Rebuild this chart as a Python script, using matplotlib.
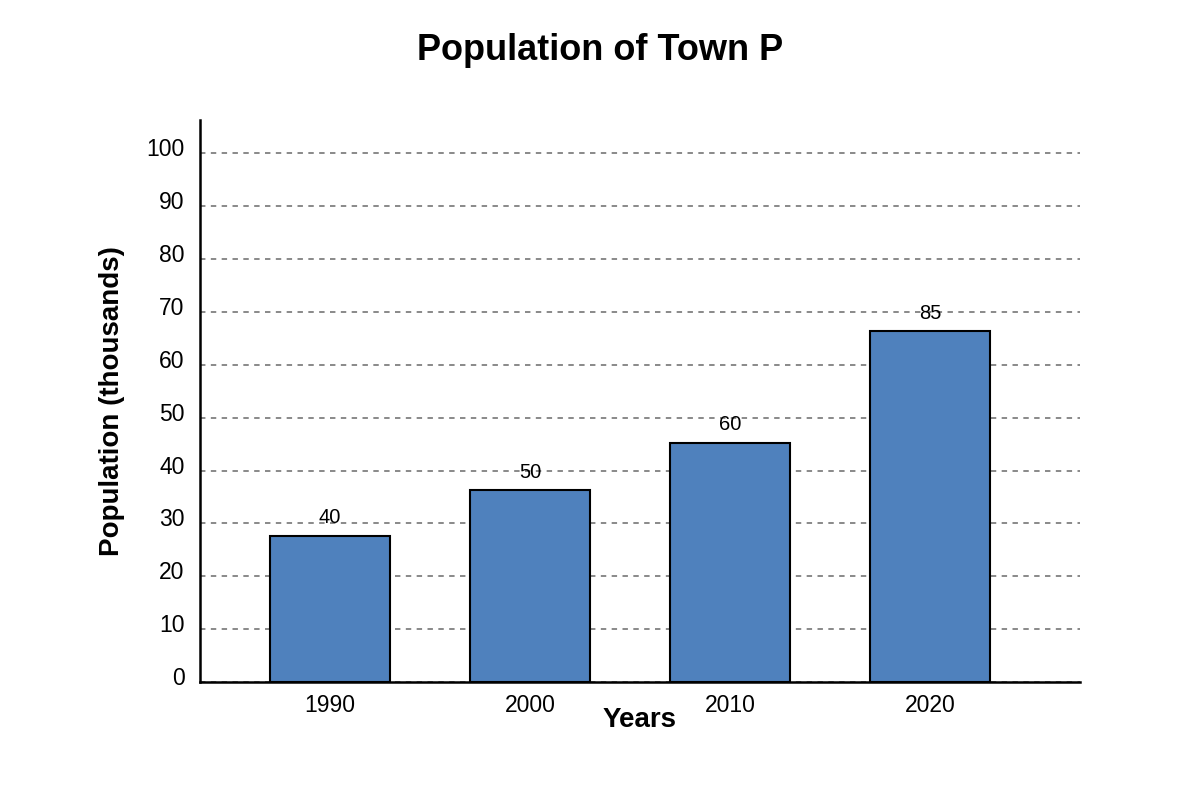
import matplotlib.pyplot as plt
from matplotlib.transforms import ScaledTranslation

years = ['1990', '2000', '2010', '2020']
# bar heights as drawn against the axis (they don't match the printed labels)
bar_heights = [27.7, 36.3, 45.3, 66.3]
bar_labels = ['40', '50', '60', '85']
y_ticks = [0, 10, 20, 30, 40, 50, 60, 70, 80, 90, 100]

plt.rcParams['font.family'] = ['Liberation Sans', 'DejaVu Sans']

fig = plt.figure(figsize=(12, 8), dpi=100)
ax = fig.add_axes([200 / 1200, 0.1475, 880 / 1200, 0.7025])

x = range(len(years))
bars = ax.bar(x, bar_heights, width=0.6, color='#4F81BD',
              edgecolor='black', linewidth=1.5, zorder=3)

for b, lab in zip(bars, bar_labels):
  ax.annotate(lab, (b.get_x() + b.get_width() / 2, b.get_height()),
              xytext=(0, 13), textcoords='offset points',
              ha='center', va='center', fontsize=14.5, zorder=4)

ax.set_xlim(-0.65, 3.75)
ax.set_ylim(0, 106.3)
ax.set_xticks(list(x))
ax.set_xticklabels(years)
ax.set_yticks(y_ticks)
ax.tick_params(axis='both', length=0, labelsize=16.5)
ax.tick_params(axis='x', pad=9)
ax.tick_params(axis='y', pad=11)

offset = ScaledTranslation(0, 6 / 100, fig.dpi_scale_trans)
for lbl in ax.get_yticklabels():
  lbl.set_transform(lbl.get_transform() + offset)

ax.yaxis.grid(True, linestyle=(0, (3, 3)), color='#808080', linewidth=1.3)
ax.set_axisbelow(True)

for side in ['top', 'right']:
  ax.spines[side].set_visible(False)
ax.spines['left'].set_linewidth(1.8)
ax.spines['bottom'].set_linewidth(1.8)

ax.set_xlabel('Years', fontsize=20, fontweight='bold')
ax.xaxis.set_label_coords(0.5, -0.045)
ax.set_ylabel('Population (thousands)', fontsize=20, fontweight='bold')
ax.yaxis.set_label_coords(-0.085, 0.5)

fig.text(0.5, 1 - 51 / 800, 'Population of Town P', ha='center',
         va='center', fontsize=26, fontweight='bold')

fig.savefig('out.png', dpi=100)
